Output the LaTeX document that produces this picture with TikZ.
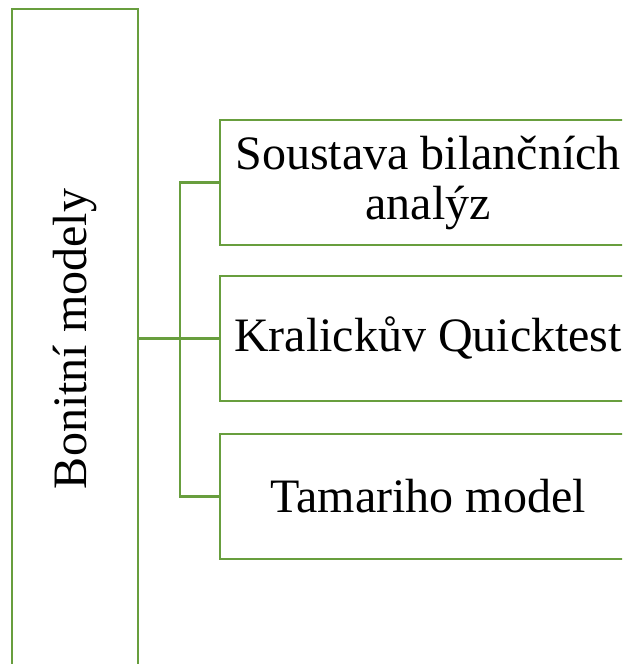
\documentclass[tikz,border=0pt]{standalone}
\usepackage{fontspec}
\setmainfont{Liberation Serif}
\definecolor{leafgreen}{RGB}{104,158,62}
\begin{document}
\begin{tikzpicture}[x=1pt,y=1pt,
  frame/.style={draw=leafgreen, line width=2.4pt, fill=white, inner sep=0pt},
  itembox/.style={frame, minimum width=416pt, minimum height=124.5pt, align=center,
    font=\fontsize{48}{50}\selectfont},
  link/.style={draw=leafgreen, line width=2.4pt}]
\useasboundingbox (0,0) rectangle (622,-664);
\clip (0,0) rectangle (622,-664);
% root box with vertical caption
\node[frame, minimum width=125.5pt, minimum height=660pt, font=\fontsize{48}{50}\selectfont]
  (bm) at (75,-339) {\rotatebox{90}{Bonitní modely}};
% child boxes
\node[itembox] (b1) at (428,-182.5) {Soustava bilančních\\analýz};
\node[itembox] (b2) at (428,-338.5) {Kralickův Quicktest};
\node[itembox] (b3) at (428,-496.5) {Tamariho model};
% connectors
\coordinate (j) at (180,-338.5);
\draw[link] (bm.east |- b2.west) -- (b2.west);
\draw[link] (b1.west) -| (j) |- (b3.west);
\end{tikzpicture}
\end{document}
